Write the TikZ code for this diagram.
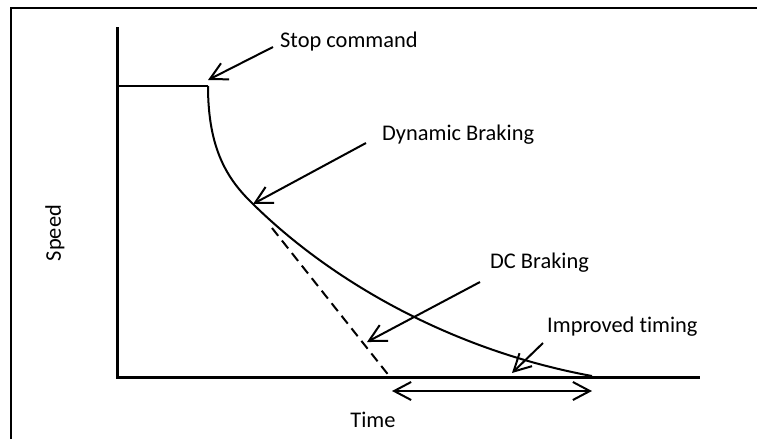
\documentclass[tikz,border=0pt]{standalone}
\usepackage{fontspec}
\setmainfont{Carlito}[Ligatures=CommonOff]
\usetikzlibrary{arrows.meta}
\begin{document}
\begin{tikzpicture}[
    x=1pt,
    y=-1pt,
    axisline/.style={line width=3pt},
    barb/.style={line width=2pt,-{Straight Barb[length=17pt,width=18pt]}},
    twobarb/.style={line width=2pt,{Straight Barb[length=17pt,width=18pt]}-{Straight Barb[length=17pt,width=18pt]}},
    tag/.style={anchor=west,inner sep=0pt,font=\fontsize{22.4}{26}\selectfont}
  ]
  \useasboundingbox (0,0) rectangle (757,439);
  \draw[line width=1.5pt] (11,439) -- (11,8) -- (757,8);

  \coordinate (ytop) at (117,27);
  \coordinate (origin) at (117,377);
  \coordinate (xend) at (700,377);
  \coordinate (hold) at (117,86);
  \coordinate (knee) at (208,86);
  \coordinate (dyntip) at (253,204);
  \coordinate (rest) at (592,376);
  \coordinate (dcstart) at (272,228);
  \coordinate (dcend) at (390,377);

  \draw[axisline] (ytop) -- (origin) -- (xend);
  \draw[line width=2.5pt] (hold) -- (knee);
  \draw[line width=2pt] (knee) .. controls (208,150) and (228,180) .. (dyntip)
    .. controls (330,280) and (450,350) .. (rest);
  \draw[line width=2pt,dash pattern=on 10pt off 6pt] (dcstart) -- (dcend);

  \node[tag] (stop) at (280,42) {Stop command};
  \node[tag] (dyn) at (382,135) {Dynamic Braking};
  \node[tag] (dc) at (490,263) {DC Braking};
  \node[tag] (imp) at (547,327) {Improved timing};
  \node[tag,anchor=center] (time) at (373,420) {Time};
  \node[tag,anchor=center,rotate=90] (speed) at (55,233) {Speed};

  \coordinate (stoptail) at (273,47);
  \coordinate (stoptip) at (208,80);
  \coordinate (dyntail) at (366,143);
  \coordinate (dctail) at (480,282);
  \coordinate (dctip) at (367,342);
  \coordinate (imptail) at (543,343);
  \coordinate (imptip) at (512,373);
  \coordinate (gapleft) at (392,391);
  \coordinate (gapright) at (592,391);

  \draw[barb] (stoptail) -- (stoptip);
  \draw[barb] (dyntail) -- (dyntip);
  \draw[barb] (dctail) -- (dctip);
  \draw[barb] (imptail) -- (imptip);
  \draw[twobarb] (gapleft) -- (gapright);
\end{tikzpicture}
\end{document}
